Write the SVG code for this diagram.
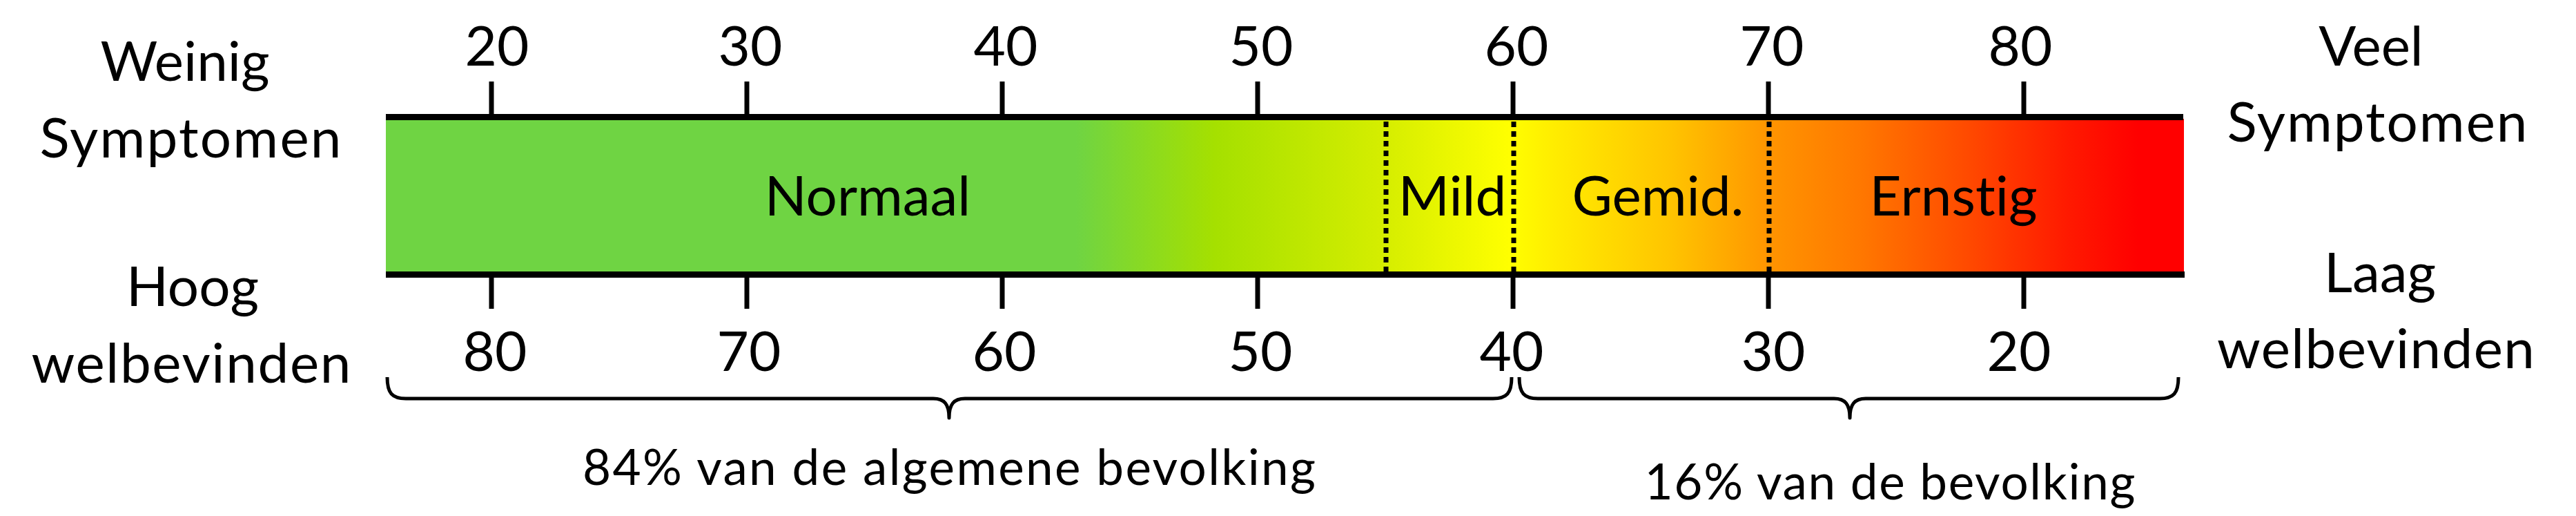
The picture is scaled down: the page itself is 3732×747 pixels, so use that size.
<svg xmlns="http://www.w3.org/2000/svg" width="3732" height="747" viewBox="0 0 3732 747">
  <style>
    .t { font-family: Lato, "Open Sans", "Liberation Sans", sans-serif; font-size: 80px; fill: #000; text-anchor: middle; font-variant-ligatures: none; }
    .s { font-family: Lato, "Open Sans", "Liberation Sans", sans-serif; font-size: 71px; fill: #000; text-anchor: middle; font-variant-ligatures: none; }
    .tick { stroke: #000; stroke-width: 7; fill: none; }
    .edge { stroke: #000; stroke-width: 9; fill: none; }
    .dot { stroke: #000; stroke-width: 7; stroke-dasharray: 8 6; fill: none; }
    .brace { stroke: #000; stroke-width: 5; fill: none; stroke-linejoin: round; }
  </style>
  <defs>
    <linearGradient id="scale" gradientUnits="userSpaceOnUse" x1="559" y1="0" x2="3163" y2="0">
      <stop offset="0" stop-color="#6FD443"/>
      <stop offset="0.384" stop-color="#6FD443"/>
      <stop offset="0.461" stop-color="#A5E000"/>
      <stop offset="0.557" stop-color="#D6EE00"/>
      <stop offset="0.625" stop-color="#FFFF00"/>
      <stop offset="0.645" stop-color="#FFF000"/>
      <stop offset="0.715" stop-color="#FFC400"/>
      <stop offset="0.770" stop-color="#FF9400"/>
      <stop offset="0.820" stop-color="#FF7800"/>
      <stop offset="0.880" stop-color="#FF4A00"/>
      <stop offset="0.935" stop-color="#FF1A00"/>
      <stop offset="0.975" stop-color="#FF0000"/>
      <stop offset="1" stop-color="#FF0000"/>
    </linearGradient>
  </defs>

  <g id="bar">
    <rect x="559" y="172" width="2605" height="223" fill="url(#scale)"/>
    <line class="edge" x1="559" y1="169.5" x2="3163" y2="169.5"/>
    <line class="edge" x1="559" y1="397.5" x2="3165" y2="397.5"/>
  </g>

  <g id="connectors">
    <g id="top-ticks">
      <line class="tick" x1="712" y1="118" x2="712" y2="166"/>
      <line class="tick" x1="1082" y1="118" x2="1082" y2="166"/>
      <line class="tick" x1="1452" y1="118" x2="1452" y2="166"/>
      <line class="tick" x1="1822" y1="118" x2="1822" y2="166"/>
      <line class="tick" x1="2192" y1="118" x2="2192" y2="166"/>
      <line class="tick" x1="2562" y1="118" x2="2562" y2="166"/>
      <line class="tick" x1="2932" y1="118" x2="2932" y2="166"/>
    </g>
    <g id="bottom-ticks">
      <line class="tick" x1="712" y1="401" x2="712" y2="447"/>
      <line class="tick" x1="1082" y1="401" x2="1082" y2="447"/>
      <line class="tick" x1="1452" y1="401" x2="1452" y2="447"/>
      <line class="tick" x1="1822" y1="401" x2="1822" y2="447"/>
      <line class="tick" x1="2192" y1="401" x2="2192" y2="447"/>
      <line class="tick" x1="2562" y1="401" x2="2562" y2="447"/>
      <line class="tick" x1="2932" y1="401" x2="2932" y2="447"/>
    </g>
    <g id="dividers">
      <line class="dot" x1="2008" y1="176" x2="2008" y2="394"/>
      <line class="dot" x1="2193" y1="176" x2="2193" y2="394"/>
      <line class="dot" x1="2563" y1="176" x2="2563" y2="394"/>
    </g>
    <g id="braces">
      <path class="brace" d="M561,546 C561,569 568,577 588,577 L1352,577 C1368,577 1375,585 1375,605 C1375,585 1382,577 1398,577 L2163,577 C2183,577 2190,569 2190,546"/>
      <path class="brace" d="M2201,546 C2201,569 2208,577 2228,577 L2657,577 C2673,577 2680,585 2680,605 C2680,585 2687,577 2703,577 L3129,577 C3149,577 3156,569 3156,546"/>
    </g>
  </g>

  <g id="top-labels">
    <text class="t" x="720" y="95">20</text>
    <text class="t" x="1087" y="95">30</text>
    <text class="t" x="1457" y="95">40</text>
    <text class="t" x="1827" y="95">50</text>
    <text class="t" x="2197" y="95">60</text>
    <text class="t" x="2567" y="95">70</text>
    <text class="t" x="2927" y="95">80</text>
  </g>
  <g id="bottom-labels">
    <text class="t" x="717" y="537">80</text>
    <text class="t" x="1085" y="537">70</text>
    <text class="t" x="1455" y="537">60</text>
    <text class="t" x="1826" y="537">50</text>
    <text class="t" x="2190" y="537">40</text>
    <text class="t" x="2569" y="537">30</text>
    <text class="t" x="2925" y="537">20</text>
  </g>

  <g id="left-top-label">
    <text class="t" x="268" y="117">Weinig</text>
    <text class="t" x="276" y="228" textLength="437">Symptomen</text>
  </g>
  <g id="right-top-label">
    <text class="t" x="3435" y="95">Veel</text>
    <text class="t" x="3444" y="205" textLength="435">Symptomen</text>
  </g>
  <g id="left-bottom-label">
    <text class="t" x="279" y="443">Hoog</text>
    <text class="t" x="277" y="554" textLength="463">welbevinden</text>
  </g>
  <g id="right-bottom-label">
    <text class="t" x="3448" y="423">Laag</text>
    <text class="t" x="3442" y="533" textLength="460">welbevinden</text>
  </g>

  <g id="zone-normaal"><text class="t" x="1257" y="312">Normaal</text></g>
  <g id="zone-mild"><text class="t" x="2104" y="312">Mild</text></g>
  <g id="zone-gemid"><text class="t" x="2402" y="312">Gemid.</text></g>
  <g id="zone-ernstig"><text class="t" x="2830" y="312">Ernstig</text></g>

  <g id="group-84"><text class="s" x="1375" y="702" textLength="1062">84% van de algemene bevolking</text></g>
  <g id="group-16"><text class="s" x="2738" y="723" textLength="711">16% van de bevolking</text></g>
</svg>
